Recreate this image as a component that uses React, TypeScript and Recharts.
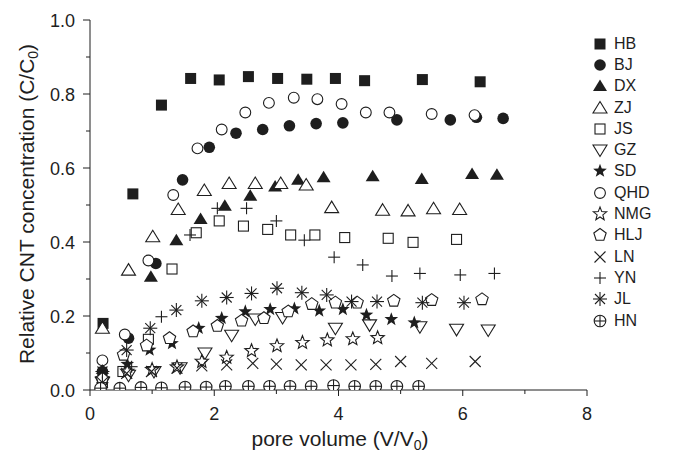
import React from "react";
import { ScatterChart, Scatter, XAxis, YAxis, Legend } from "recharts";

type Pt = [number, number];

// pore volume (V/V0), C/C0 pairs, one list per soil
const hb: Pt[] = [[0.21, 0.18], [0.69, 0.53], [1.15, 0.77], [1.62, 0.842], [2.08, 0.838], [2.55, 0.847], [3.02, 0.842], [3.49, 0.84], [3.95, 0.842], [4.42, 0.836], [5.35, 0.839], [6.28, 0.833]];
const bj: Pt[] = [[0.2, 0.05], [0.62, 0.14], [1.06, 0.342], [1.49, 0.568], [1.92, 0.656], [2.35, 0.694], [2.78, 0.704], [3.21, 0.714], [3.64, 0.72], [4.07, 0.722], [4.94, 0.73], [5.8, 0.73], [6.22, 0.737], [6.65, 0.734]];
const dx: Pt[] = [[0.98, 0.306], [1.39, 0.405], [1.78, 0.462], [2.17, 0.498], [2.58, 0.525], [2.98, 0.55], [3.35, 0.568], [3.76, 0.575], [4.55, 0.578], [5.34, 0.57], [6.15, 0.584], [6.55, 0.582]];
const zj: Pt[] = [[0.2, 0.167], [0.62, 0.324], [1.01, 0.414], [1.42, 0.488], [1.84, 0.539], [2.24, 0.558], [2.66, 0.558], [3.07, 0.558], [3.48, 0.554], [3.89, 0.493], [4.71, 0.486], [5.12, 0.484], [5.53, 0.49], [5.95, 0.488]];
const js: Pt[] = [[0.2, 0.02], [0.53, 0.05], [0.94, 0.137], [1.32, 0.327], [1.71, 0.425], [2.08, 0.457], [2.47, 0.443], [2.86, 0.434], [3.23, 0.419], [3.62, 0.419], [4.1, 0.412], [4.8, 0.41], [5.2, 0.399], [5.9, 0.407]];
const gz: Pt[] = [[0.2, 0.02], [0.62, 0.04], [1.03, 0.05], [1.45, 0.06], [1.85, 0.1], [2.28, 0.148], [2.66, 0.192], [3.1, 0.196], [3.95, 0.167], [4.5, 0.176], [5.31, 0.171], [5.9, 0.164], [6.41, 0.162]];
const sd: Pt[] = [[0.2, 0.04], [0.6, 0.07], [0.96, 0.108], [1.32, 0.126], [1.75, 0.167], [2.12, 0.194], [2.5, 0.212], [2.9, 0.218], [3.29, 0.22], [3.69, 0.214], [4.07, 0.218], [4.45, 0.203], [4.85, 0.191], [5.22, 0.182]];
const qhd: Pt[] = [[0.2, 0.08], [0.56, 0.15], [0.94, 0.35], [1.34, 0.527], [1.73, 0.653], [2.12, 0.704], [2.5, 0.75], [2.88, 0.776], [3.28, 0.79], [3.66, 0.786], [4.05, 0.773], [4.44, 0.75], [4.82, 0.75], [5.5, 0.746], [6.19, 0.743]];
const nmg: Pt[] = [[0.2, 0.03], [0.6, 0.05], [1.0, 0.055], [1.4, 0.062], [1.8, 0.077], [2.2, 0.088], [2.6, 0.106], [3.01, 0.119], [3.42, 0.128], [3.82, 0.135], [4.23, 0.138], [4.63, 0.141]];
const hlj: Pt[] = [[0.2, 0.03], [0.54, 0.095], [0.91, 0.12], [1.28, 0.14], [1.66, 0.158], [2.05, 0.173], [2.44, 0.187], [2.8, 0.194], [3.19, 0.212], [3.57, 0.232], [3.95, 0.236], [4.3, 0.236], [4.89, 0.241], [5.5, 0.243], [6.31, 0.245]];
const ln: Pt[] = [[0.2, 0.02], [0.59, 0.045], [0.99, 0.05], [1.4, 0.059], [1.8, 0.065], [2.2, 0.068], [2.62, 0.072], [3.0, 0.07], [3.4, 0.068], [3.8, 0.068], [4.2, 0.068], [4.6, 0.069], [5.0, 0.077], [5.5, 0.072], [6.2, 0.077]];
const yn: Pt[] = [[0.2, 0.02], [0.67, 0.063], [1.15, 0.198], [1.61, 0.419], [2.05, 0.491], [2.52, 0.491], [3.0, 0.457], [3.45, 0.405], [3.93, 0.359], [4.39, 0.338], [4.86, 0.308], [5.31, 0.315], [5.96, 0.311], [6.51, 0.315]];
const jl: Pt[] = [[0.2, 0.05], [0.59, 0.108], [0.97, 0.167], [1.39, 0.216], [1.8, 0.241], [2.2, 0.25], [2.6, 0.261], [3.01, 0.275], [3.41, 0.263], [3.81, 0.257], [4.21, 0.239], [4.62, 0.239], [5.35, 0.236], [6.02, 0.236]];
const hn: Pt[] = [[0.17, 0.005], [0.48, 0.005], [0.82, 0.007], [1.15, 0.006], [1.53, 0.008], [1.87, 0.008], [2.18, 0.01], [2.55, 0.01], [2.89, 0.01], [3.22, 0.01], [3.56, 0.01], [3.92, 0.012], [4.26, 0.01], [4.6, 0.01], [4.94, 0.01], [5.29, 0.01]];

const X_TICKS = [0, 1, 2, 3, 4, 5, 6, 7, 8];
const Y_TICKS = [0, 0.1, 0.2, 0.3, 0.4, 0.5, 0.6, 0.7, 0.8, 0.9, 1.0];

const INK = "#1e1e1e";
const FONT = "'Liberation Sans', Arial, Helvetica, sans-serif";

const SERIES = [
  { name: "HB", kind: "squareFilled", pts: hb },
  { name: "BJ", kind: "circleFilled", pts: bj },
  { name: "DX", kind: "triUpFilled", pts: dx },
  { name: "ZJ", kind: "triUpOpen", pts: zj },
  { name: "JS", kind: "squareOpen", pts: js },
  { name: "GZ", kind: "triDownOpen", pts: gz },
  { name: "SD", kind: "starFilled", pts: sd },
  { name: "QHD", kind: "circleOpen", pts: qhd },
  { name: "NMG", kind: "starOpen", pts: nmg },
  { name: "HLJ", kind: "pentagon", pts: hlj },
  { name: "LN", kind: "cross", pts: ln },
  { name: "YN", kind: "plus", pts: yn },
  { name: "JL", kind: "asterisk", pts: jl },
  { name: "HN", kind: "circlePlus", pts: hn },
];

function starPoints(cx: number, cy: number, R: number, r: number) {
  const out: string[] = [];
  for (let i = 0; i < 10; i++) {
    const rad = i % 2 === 0 ? R : r;
    const a = -Math.PI / 2 + (i * Math.PI) / 5;
    out.push(`${cx + rad * Math.cos(a)},${cy + rad * Math.sin(a)}`);
  }
  return out.join(" ");
}

function polyPoints(cx: number, cy: number, R: number, n: number) {
  const out: string[] = [];
  for (let i = 0; i < n; i++) {
    const a = -Math.PI / 2 + (i * 2 * Math.PI) / n;
    out.push(`${cx + R * Math.cos(a)},${cy + R * Math.sin(a)}`);
  }
  return out.join(" ");
}

function Marker({ kind, cx, cy }: { kind: string; cx: number; cy: number }) {
  const sw = 1.1;
  const open = { fill: "#fff", stroke: INK, strokeWidth: sw };
  switch (kind) {
    case "squareFilled":
      return <rect x={cx - 5.5} y={cy - 5.5} width={11} height={11} fill={INK} />;
    case "squareOpen":
      return <rect x={cx - 5} y={cy - 5} width={10} height={10} {...open} />;
    case "circleFilled":
      return <circle cx={cx} cy={cy} r={5.8} fill={INK} />;
    case "circleOpen":
      return <circle cx={cx} cy={cy} r={5.4} {...open} />;
    case "triUpFilled":
      return <polygon points={`${cx},${cy - 6.5} ${cx + 7},${cy + 5} ${cx - 7},${cy + 5}`} fill={INK} />;
    case "triUpOpen":
      return <polygon points={`${cx},${cy - 6.5} ${cx + 7},${cy + 5} ${cx - 7},${cy + 5}`} {...open} />;
    case "triDownOpen":
      return <polygon points={`${cx - 7},${cy - 5} ${cx + 7},${cy - 5} ${cx},${cy + 6.5}`} {...open} />;
    case "starFilled":
      return <polygon points={starPoints(cx, cy, 7.2, 3)} fill={INK} />;
    case "starOpen":
      return <polygon points={starPoints(cx, cy, 7, 3)} {...open} />;
    case "pentagon":
      return <polygon points={polyPoints(cx, cy, 6.5, 5)} {...open} />;
    case "cross":
      return (
        <g stroke={INK} strokeWidth={sw}>
          <line x1={cx - 5.5} y1={cy - 5.5} x2={cx + 5.5} y2={cy + 5.5} />
          <line x1={cx - 5.5} y1={cy + 5.5} x2={cx + 5.5} y2={cy - 5.5} />
        </g>
      );
    case "plus":
      return (
        <g stroke={INK} strokeWidth={sw}>
          <line x1={cx - 6} y1={cy} x2={cx + 6} y2={cy} />
          <line x1={cx} y1={cy - 6} x2={cx} y2={cy + 6} />
        </g>
      );
    case "asterisk":
      return (
        <g stroke={INK} strokeWidth={sw}>
          <line x1={cx - 7} y1={cy} x2={cx + 7} y2={cy} />
          <line x1={cx} y1={cy - 7} x2={cx} y2={cy + 7} />
          <line x1={cx - 5} y1={cy - 5} x2={cx + 5} y2={cy + 5} />
          <line x1={cx - 5} y1={cy + 5} x2={cx + 5} y2={cy - 5} />
        </g>
      );
    case "circlePlus":
      return (
        <g stroke={INK} strokeWidth={sw}>
          <circle cx={cx} cy={cy} r={5.8} fill="#fff" />
          <line x1={cx - 5.8} y1={cy} x2={cx + 5.8} y2={cy} />
          <line x1={cx} y1={cy - 5.8} x2={cx} y2={cy + 5.8} />
        </g>
      );
    default:
      return null;
  }
}

function XTick(props: any) {
  const { x, y, payload } = props;
  const major = payload.value % 2 === 0;
  return (
    <g>
      <line x1={x} x2={x} y1={y} y2={y + (major ? 6 : 4)} stroke={INK} strokeWidth={1} />
      {major && (
        <text x={x} y={y + 30} textAnchor="middle" fontSize={18} fill={INK} fontFamily={FONT}>
          {payload.value}
        </text>
      )}
    </g>
  );
}

function YTick(props: any) {
  const { x, y, payload } = props;
  const major = Math.round(payload.value * 10) % 2 === 0;
  return (
    <g>
      <line x1={x} x2={x - (major ? 7 : 4)} y1={y} y2={y} stroke={INK} strokeWidth={1} />
      {major && (
        <text x={x - 15} y={y + 6.5} textAnchor="end" fontSize={18} fill={INK} fontFamily={FONT}>
          {payload.value.toFixed(1)}
        </text>
      )}
    </g>
  );
}

function LegendBox() {
  return (
    <div style={{ fontFamily: FONT, fontSize: 16, color: INK }}>
      {SERIES.map((s) => (
        <div key={s.name} style={{ display: "flex", alignItems: "center", height: 21.3 }}>
          <svg width={24} height={20} style={{ display: "block" }}>
            <Marker kind={s.kind} cx={12} cy={10} />
          </svg>
          <span style={{ marginLeft: 2 }}>{s.name}</span>
        </div>
      ))}
    </div>
  );
}

export default function App() {
  return (
    <div style={{ position: "absolute", left: 0, top: 0, width: 673, height: 455, background: "#fff" }}>
      <ScatterChart width={673} height={455} margin={{ top: 20, right: 86, bottom: 25, left: 30 }}>
        <XAxis
          type="number"
          dataKey="x"
          domain={[0, 8]}
          ticks={X_TICKS}
          interval={0}
          height={40}
          tickSize={0}
          tickMargin={0}
          tickLine={false}
          tick={<XTick />}
          axisLine={{ stroke: INK, strokeWidth: 1 }}
          allowDataOverflow
          label={{
            content: () => (
              <text x={340} y={446} textAnchor="middle" fontSize={21} fill={INK} fontFamily={FONT}>
                pore volume (V/V
                <tspan fontSize={14} dy={4}>0</tspan>
                <tspan dy={-4}>)</tspan>
              </text>
            ),
          }}
        />
        <YAxis
          type="number"
          dataKey="y"
          domain={[0, 1]}
          ticks={Y_TICKS}
          interval={0}
          width={60}
          tickSize={0}
          tickMargin={0}
          tickLine={false}
          tick={<YTick />}
          axisLine={{ stroke: INK, strokeWidth: 1 }}
          allowDataOverflow
          label={{
            content: () => (
              <text
                transform="translate(34,204) rotate(-90)"
                textAnchor="middle"
                fontSize={21}
                fill={INK}
                fontFamily={FONT}
              >
                Relative CNT concentration (C/C
                <tspan fontSize={14} dy={4}>0</tspan>
                <tspan dy={-4}>)</tspan>
              </text>
            ),
          }}
        />
        <Legend
          layout="vertical"
          align="center"
          verticalAlign="middle"
          wrapperStyle={{ left: 588, top: 33, width: 85 }}
          content={() => <LegendBox />}
        />
        {SERIES.map((s) => (
          <Scatter
            key={s.name}
            name={s.name}
            data={s.pts.map(([x, y]) => ({ x, y }))}
            isAnimationActive={false}
            shape={(p: any) => <Marker kind={s.kind} cx={p.cx} cy={p.cy} />}
          />
        ))}
      </ScatterChart>
    </div>
  );
}
